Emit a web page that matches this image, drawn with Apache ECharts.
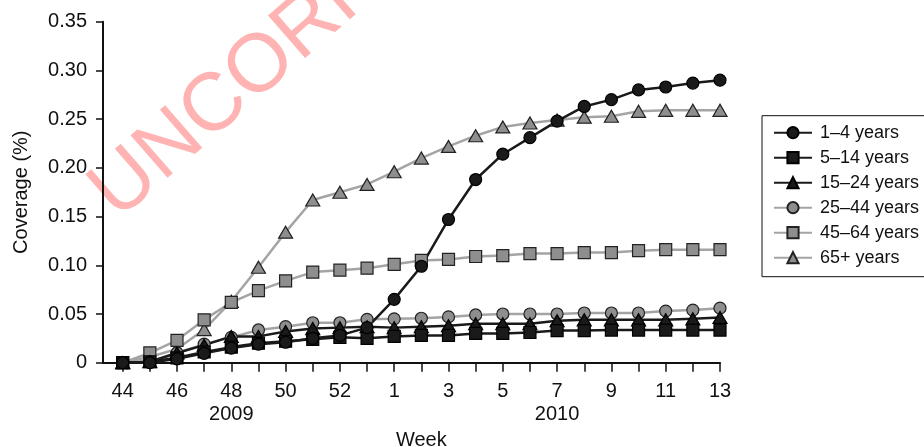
<!DOCTYPE html>
<html>
<head>
<meta charset="utf-8">
<script src="https://cdn.jsdelivr.net/npm/echarts@6/dist/echarts.min.js"></script>
<style>
html,body{margin:0;padding:0;background:#fff;}
#chart{width:924px;height:447px;}
</style>
</head>
<body>
<div id="chart"></div>
<script>
var weeks = ['44','45','46','47','48','49','50','51','52','53','1','2','3','4','5','6','7','8','9','10','11','12','13'];
var yTicks = [0, 0.05, 0.10, 0.15, 0.20, 0.25, 0.30, 0.35];
var yearLabels = {'48': '2009', '7': '2010'};
var seriesNames = ['1–4 years','5–14 years','15–24 years','25–44 years','45–64 years','65+ years'];

var age1_4   = [0, 0, 0.004, 0.0096, 0.015, 0.019, 0.021, 0.025, 0.028, 0.036, 0.065, 0.099, 0.147, 0.188, 0.214, 0.231, 0.248, 0.263, 0.270, 0.280, 0.283, 0.287, 0.290];
var age5_14  = [0, 0.001, 0.005, 0.011, 0.016, 0.020, 0.022, 0.024, 0.026, 0.025, 0.027, 0.028, 0.028, 0.030, 0.030, 0.031, 0.033, 0.033, 0.0335, 0.0335, 0.0335, 0.0335, 0.0335];
var age15_24 = [0, 0.001, 0.010, 0.018, 0.027, 0.027, 0.032, 0.035, 0.036, 0.037, 0.036, 0.037, 0.038, 0.040, 0.040, 0.040, 0.043, 0.044, 0.044, 0.044, 0.044, 0.045, 0.0465];
var age25_44 = [0, 0.001, 0.010, 0.019, 0.026, 0.0336, 0.037, 0.041, 0.041, 0.0445, 0.045, 0.0456, 0.047, 0.049, 0.050, 0.050, 0.050, 0.051, 0.051, 0.051, 0.053, 0.054, 0.056];
var age45_64 = [0, 0.010, 0.023, 0.044, 0.062, 0.074, 0.084, 0.093, 0.095, 0.097, 0.101, 0.105, 0.106, 0.109, 0.110, 0.112, 0.112, 0.113, 0.113, 0.115, 0.116, 0.116, 0.116];
var age65    = [0, 0.006, 0.014, 0.034, 0.063, 0.098, 0.134, 0.167, 0.175, 0.183, 0.196, 0.210, 0.222, 0.233, 0.242, 0.246, 0.249, 0.252, 0.253, 0.258, 0.259, 0.259, 0.259];

var FONT = '"Liberation Sans", Arial, Helvetica, sans-serif';
var BLACK = '#1a1a1a';
var GRAYLINE = '#a4a4a4';
var GRAYFILL = '#8e8e8e';

function mk(name, data, symbol, size, dark) {
  return {
    name: name, type: 'line', data: data,
    xAxisIndex: 0, yAxisIndex: 0,
    symbol: symbol, symbolSize: size, showSymbol: true,
    lineStyle: {color: dark ? BLACK : GRAYLINE, width: 2.5},
    itemStyle: {color: dark ? BLACK : GRAYFILL, borderColor: dark ? '#000' : '#222', borderWidth: 1.2},
    emphasis: {disabled: true},
    animation: false
  };
}

var chart = echarts.init(document.getElementById('chart'), null, {renderer: 'canvas'});
chart.setOption({
  animation: false,
  textStyle: {fontFamily: FONT},
  graphic: [{
    type: 'text', x: 103, y: 204, rotation: 0.716, z: -10, silent: true,
    style: {text: 'UNCORRECTED PROOF', fontSize: 82, fontFamily: FONT, fill: '#ffb3b3', align: 'left', verticalAlign: 'middle'}
  }],
  grid: [
    {left: 122.7, right: 204, top: 21.7, bottom: 84.3, outerBoundsMode: 'none', containLabel: false},
    {left: 103, right: 204, top: 21.7, bottom: 84.3, outerBoundsMode: 'none', containLabel: false}
  ],
  xAxis: [
    {
      type: 'category', gridIndex: 0, data: weeks, boundaryGap: false,
      axisLine: {show: false},
      axisTick: {show: true, interval: 0, length: 9, inside: false, lineStyle: {color: '#111', width: 1.5}},
      axisLabel: {
        interval: 1, margin: 17, fontSize: 20, color: '#111', fontFamily: FONT, lineHeight: 23,
        formatter: function (v) { return yearLabels[v] ? v + '\n' + yearLabels[v] : v; }
      },
      splitLine: {show: false},
      name: 'Week', nameLocation: 'middle', nameGap: 63,
      nameTextStyle: {fontSize: 20, color: '#111', fontFamily: FONT}
    },
    {
      type: 'value', gridIndex: 1, min: 0, max: 1,
      axisLine: {show: true, lineStyle: {color: '#111', width: 2}},
      axisTick: {show: false}, axisLabel: {show: false}, splitLine: {show: false}
    }
  ],
  yAxis: [
    {type: 'value', gridIndex: 0, min: 0, max: 0.35, show: false},
    {
      type: 'value', gridIndex: 1, min: 0, max: 0.35, interval: 0.05,
      axisLine: {show: true, lineStyle: {color: '#111', width: 2}},
      axisTick: {show: true, length: 7, lineStyle: {color: '#111', width: 1.5}},
      axisLabel: {
        margin: 16, fontSize: 20, color: '#111', fontFamily: FONT,
        formatter: function (v) {
          for (var i = 0; i < yTicks.length; i++) {
            if (Math.abs(yTicks[i] - v) < 1e-9) return v === 0 ? '0' : yTicks[i].toFixed(2);
          }
          return '';
        }
      },
      splitLine: {show: false},
      name: 'Coverage (%)', nameLocation: 'middle', nameGap: 72,
      nameTextStyle: {fontSize: 20, color: '#111', fontFamily: FONT}
    }
  ],
  legend: {
    orient: 'vertical', left: 762, top: 115.7,
    data: seriesNames,
    itemWidth: 38, itemHeight: 14, itemGap: 7,
    padding: [8, 14, 10, 11],
    borderColor: '#111', borderWidth: 1,
    textStyle: {fontSize: 18, color: '#111', fontFamily: FONT, padding: [0, 0, 0, 3]},
    selectedMode: false
  },
  series: [
    mk(seriesNames[5], age65, 'triangle', [14, 12], false),
    mk(seriesNames[4], age45_64, 'rect', 12, false),
    mk(seriesNames[3], age25_44, 'circle', 12, false),
    mk(seriesNames[2], age15_24, 'triangle', [14, 12], true),
    mk(seriesNames[1], age5_14, 'rect', 12, true),
    mk(seriesNames[0], age1_4, 'circle', 12, true)
  ]
});
</script>
</body>
</html>
